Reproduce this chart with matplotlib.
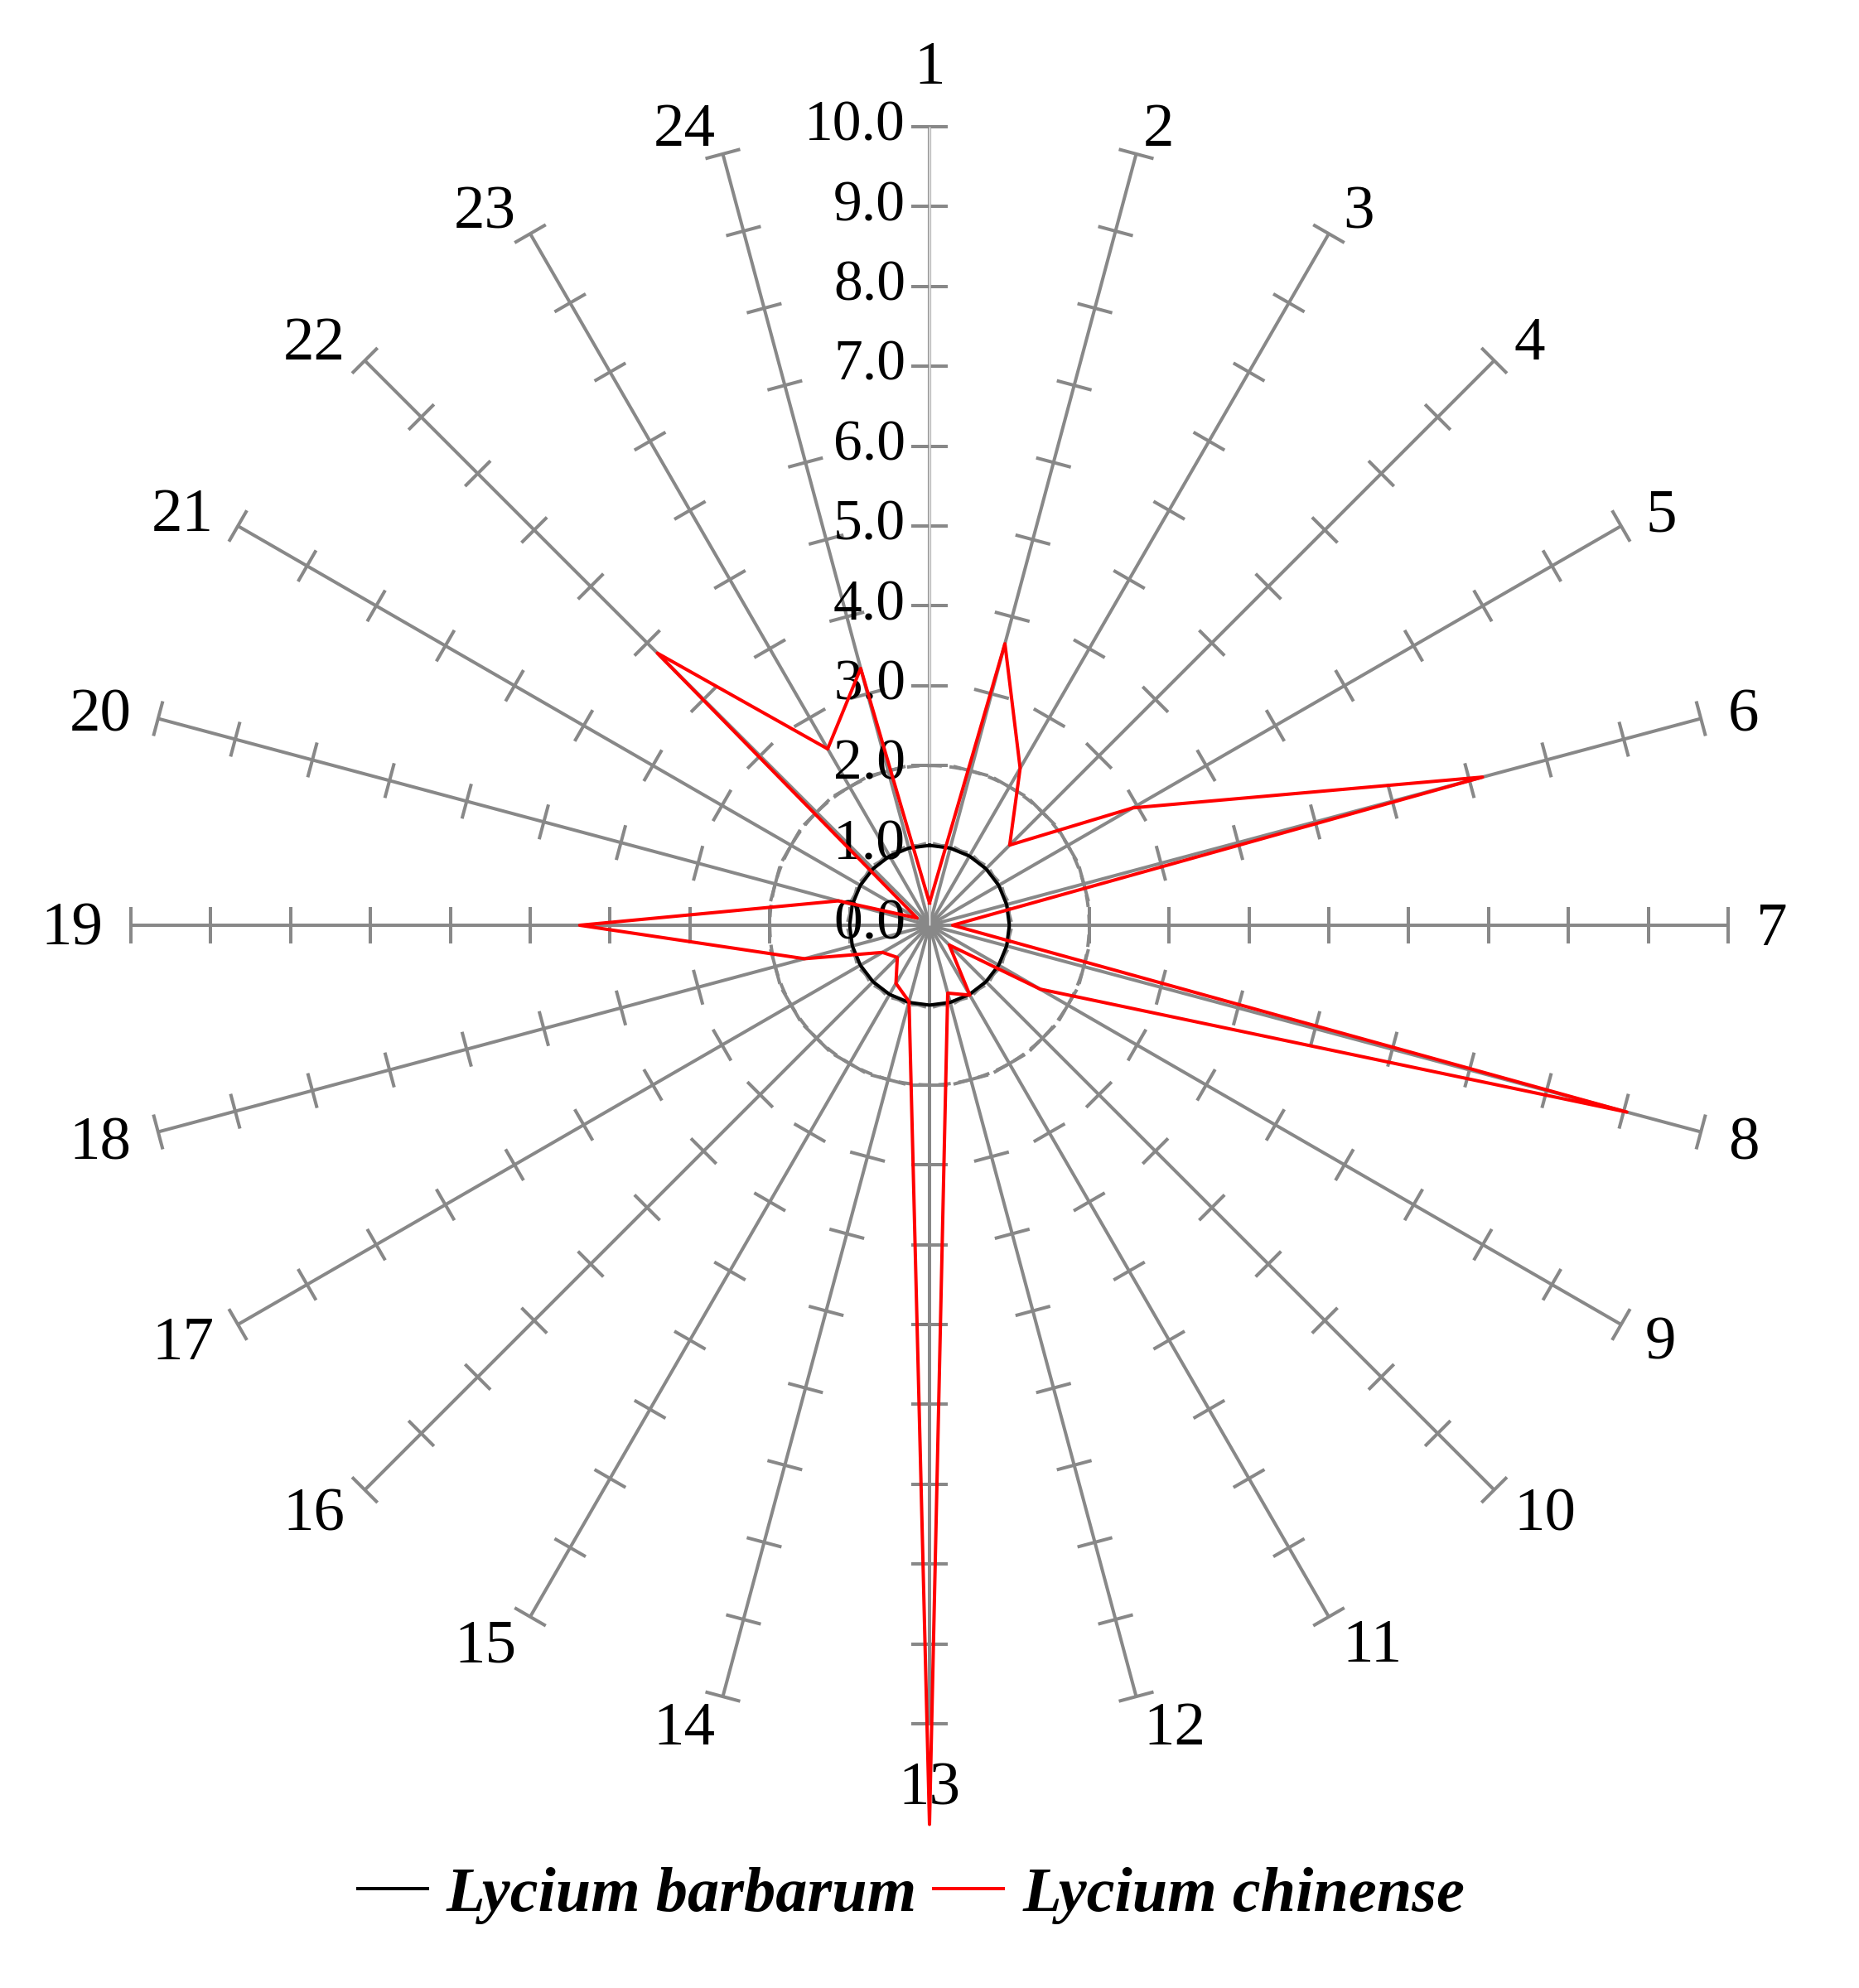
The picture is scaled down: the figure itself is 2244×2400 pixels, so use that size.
import matplotlib.pyplot as plt
import numpy as np
from matplotlib.collections import LineCollection
from matplotlib.lines import Line2D

# 24 radar axes
axis_labels = ["1", "2", "3", "4", "5", "6", "7", "8", "9", "10", "11", "12",
               "13", "14", "15", "16", "17", "18", "19", "20", "21", "22", "23", "24"]
tick_values = [0, 1, 2, 3, 4, 5, 6, 7, 8, 9, 10]
tick_labels = ["0.0", "1.0", "2.0", "3.0", "4.0", "5.0", "6.0", "7.0", "8.0", "9.0", "10.0"]
dashed_rings = [1.0, 2.0]

barbarum = [1.0, 1.0, 1.0, 1.0, 1.0, 1.0, 1.0, 1.0, 1.0, 1.0, 1.0, 1.0,
            1.0, 1.0, 1.0, 1.0, 1.0, 1.0, 1.0, 1.0, 1.0, 1.0, 1.0, 1.0]
chinense = [0.28, 3.65, 2.27, 1.42, 2.94, 7.17, 0.29, 9.04, 1.60, 0.35, 1.01, 0.88,
            11.26, 0.99, 0.84, 0.57, 0.68, 1.62, 4.38, 1.18, 0.18, 4.82, 2.55, 3.33]
series_names = ["Lycium barbarum", "Lycium chinense"]
series_colors = ["black", "red"]

plt.rcParams["font.family"] = ["Liberation Serif", "DejaVu Serif"]

W, H = 2244, 2400
unit = 96.4          # pixels per data unit
cx, cy = 1122, 1117  # centre of the radar, pixels from top-left
grey = "#888888"
lw = 2.9

fig = plt.figure(figsize=(W / 100, H / 100), dpi=100)
ax = fig.add_axes([0, 0, 1, 1])
ax.set_xlim(-cx / unit, (W - cx) / unit)
ax.set_ylim(-(H - cy) / unit, cy / unit)
ax.set_aspect("equal")
ax.axis("off")

n = len(axis_labels)
theta = np.arange(n) * 2 * np.pi / n
ux, uy = np.sin(theta), np.cos(theta)
rmax = tick_values[-1]

# spokes (the first one is drawn as a hollow light line)
for k in range(n):
    if k == 0:
        ax.plot([0, rmax * ux[k]], [0, rmax * uy[k]], color="#a0a0a0", lw=3.0,
                solid_capstyle="butt", zorder=1)
        ax.plot([0, rmax * ux[k]], [0, rmax * uy[k]], color="white", lw=1.0,
                solid_capstyle="butt", zorder=1.1)
    else:
        ax.plot([0, rmax * ux[k]], [0, rmax * uy[k]], color=grey, lw=lw,
                solid_capstyle="butt", zorder=1)

# tick marks across every spoke
half = 0.225
segs = []
for k in range(n):
    px, py = uy[k], -ux[k]
    for v in tick_values[1:]:
        segs.append([(v * ux[k] - half * px, v * uy[k] - half * py),
                     (v * ux[k] + half * px, v * uy[k] + half * py)])
ax.add_collection(LineCollection(segs, colors=grey, linewidths=lw, zorder=1))

# dashed rings
t = np.linspace(0, 2 * np.pi, 400)
for r in dashed_rings:
    ax.plot(r * np.sin(t), r * np.cos(t), color=grey, lw=lw,
            dashes=(3.7, 2.3), zorder=1.5)

# tick labels along the first spoke
for v, lab in zip(tick_values, tick_labels):
    ax.text(-0.30, v, lab, ha="right", va="center", fontsize=50, color="black", zorder=2)

# category labels just past the spoke ends
for k, lab in enumerate(axis_labels):
    ex, ey = rmax * ux[k], rmax * uy[k]
    if abs(ux[k]) < 1e-6:
        d = 0.72 if uy[k] > 0 else 0.83
        ax.text(0, ey + d * np.sign(uy[k]), lab, ha="center", va="center",
                fontsize=54, color="black", zorder=2)
    else:
        ha = "left" if ux[k] > 0 else "right"
        ax.text(ex + 0.35 * ux[k], ey + 0.365 * uy[k] - 0.064, lab, ha=ha, va="center",
                fontsize=54, color="black", zorder=2)

# series
for vals, col, z in [(barbarum, series_colors[0], 3), (chinense, series_colors[1], 4)]:
    v = np.array(vals + vals[:1])
    xs = v * np.append(ux, ux[0])
    ys = v * np.append(uy, uy[0])
    ax.plot(xs, ys, color=col, lw=lw, zorder=z)

handles = [Line2D([], [], color=c, lw=lw) for c in series_colors]
fig.legend(handles, series_names, loc="center", bbox_to_anchor=(1100 / W, 1 - 2288 / H),
           ncol=2, frameon=False, handlelength=1.1, handletextpad=0.3, columnspacing=0.27,
           prop={"family": "Liberation Serif", "style": "italic", "weight": "bold", "size": 55})

fig.savefig("out.png", dpi=100, facecolor="white")
